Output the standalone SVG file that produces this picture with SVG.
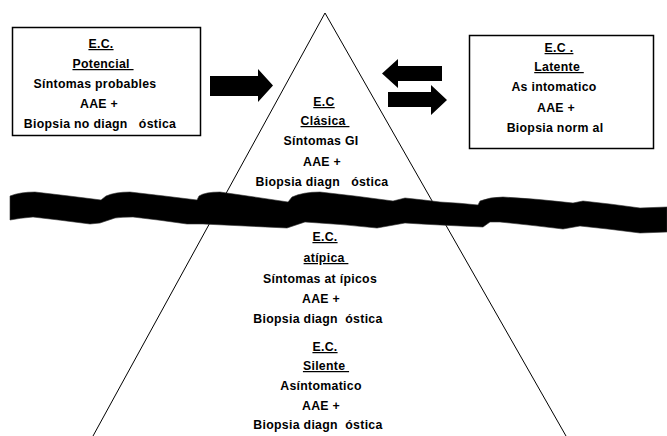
<svg xmlns="http://www.w3.org/2000/svg" width="667" height="436" viewBox="0 0 667 436">
<style>
.t{font-family:"Liberation Sans",Arial,sans-serif;font-weight:bold;font-size:12.3px;letter-spacing:0.3px;fill:#000;text-anchor:middle;white-space:pre}
.u{text-decoration:underline}
.box{fill:#fff;stroke:#000;stroke-width:1.5}
.edge{fill:none;stroke:#000;stroke-width:1}
.arrow{fill:#000}
</style>
<rect width="667" height="436" fill="#fff"/>
<g id="pyramid">
<polygon points="325,13 93,436 566,436" fill="#fff"/>
<polyline class="edge" points="93,436 325,13 566,436"/>
</g>
<g id="waterline">
<path fill="#000" stroke="#333" stroke-width="0.6" d="M10,196 Q20,192 35,192 Q70,196 101,200 L106,196 Q115,192 130,192 Q165,196 197,200 L199,196 Q205,192 220,192 Q255,197 288,202 L292,197 Q303,192 320,192 Q357,196 393,201 L405,198 Q425,200 440,202 Q460,203 478,205 L480,201 Q490,197 503,197 Q540,199 573,203 L583,201 Q612,204 640,208 L667,207 L667,232 L640,233 Q610,229 580,226 L563,229 Q530,225 500,222 L490,222 L483,227 Q460,226 440,225 Q420,224 405,223 L377,228 Q340,224 305,222 L287,228 Q245,226 203,224 L187,224 Q160,220 133,217 Q122,217 115,218 L100,223 L90,224 Q60,220 33,217 Q20,218 10,220 Z"/>
</g>
<g id="node-potencial">
<rect class="box" x="12.5" y="27.5" width="188" height="108"/>
<text class="t u" x="101" y="48">E.C.</text>
<text class="t u" x="103" y="68">Potencial </text>
<text class="t" x="95" y="88">Síntomas probables</text>
<text class="t" x="99" y="108">AAE +</text>
<text class="t" x="100" y="128">Biopsia no diagn   óstica</text>
</g>
<g id="node-latente">
<rect class="box" x="469.5" y="35.5" width="184" height="113"/>
<text class="t u" x="559" y="52">E.C .</text>
<text class="t u" x="559" y="71">Latente </text>
<text class="t" x="554" y="91">As intomatico</text>
<text class="t" x="556" y="112">AAE +</text>
<text class="t" x="555" y="132">Biopsia norm al</text>
</g>
<g id="node-clasica">
<text class="t u" x="324" y="106">E.C</text>
<text class="t u" x="325" y="125">Clásica </text>
<text class="t" x="321" y="145">Síntomas GI</text>
<text class="t" x="322" y="166">AAE +</text>
<text class="t" x="322" y="186">Biopsia diagn   óstica</text>
</g>
<g id="node-atipica">
<text class="t u" x="325" y="241">E.C.</text>
<text class="t u" x="326" y="262">atípica </text>
<text class="t" x="320" y="283">Síntomas at ípicos</text>
<text class="t" x="321" y="303">AAE +</text>
<text class="t" x="318" y="323">Biopsia diagn  óstica</text>
</g>
<g id="node-silente">
<text class="t u" x="325" y="351">E.C.</text>
<text class="t u" x="326" y="370">Silente </text>
<text class="t" x="321" y="390">Asíntomatico</text>
<text class="t" x="321" y="410">AAE +</text>
<text class="t" x="318" y="429">Biopsia diagn  óstica</text>
</g>
<g id="connectors">
<polygon class="arrow" points="210,76 258,76 258,69 273,85.5 258,102 258,96 210,96"/>
<polygon class="arrow" points="442,66 398,66 398,59 382,73.5 398,88 398,81 442,81"/>
<polygon class="arrow" points="388,92 431,92 431,85 447,100 431,115 431,107 388,107"/>
</g>
</svg>
